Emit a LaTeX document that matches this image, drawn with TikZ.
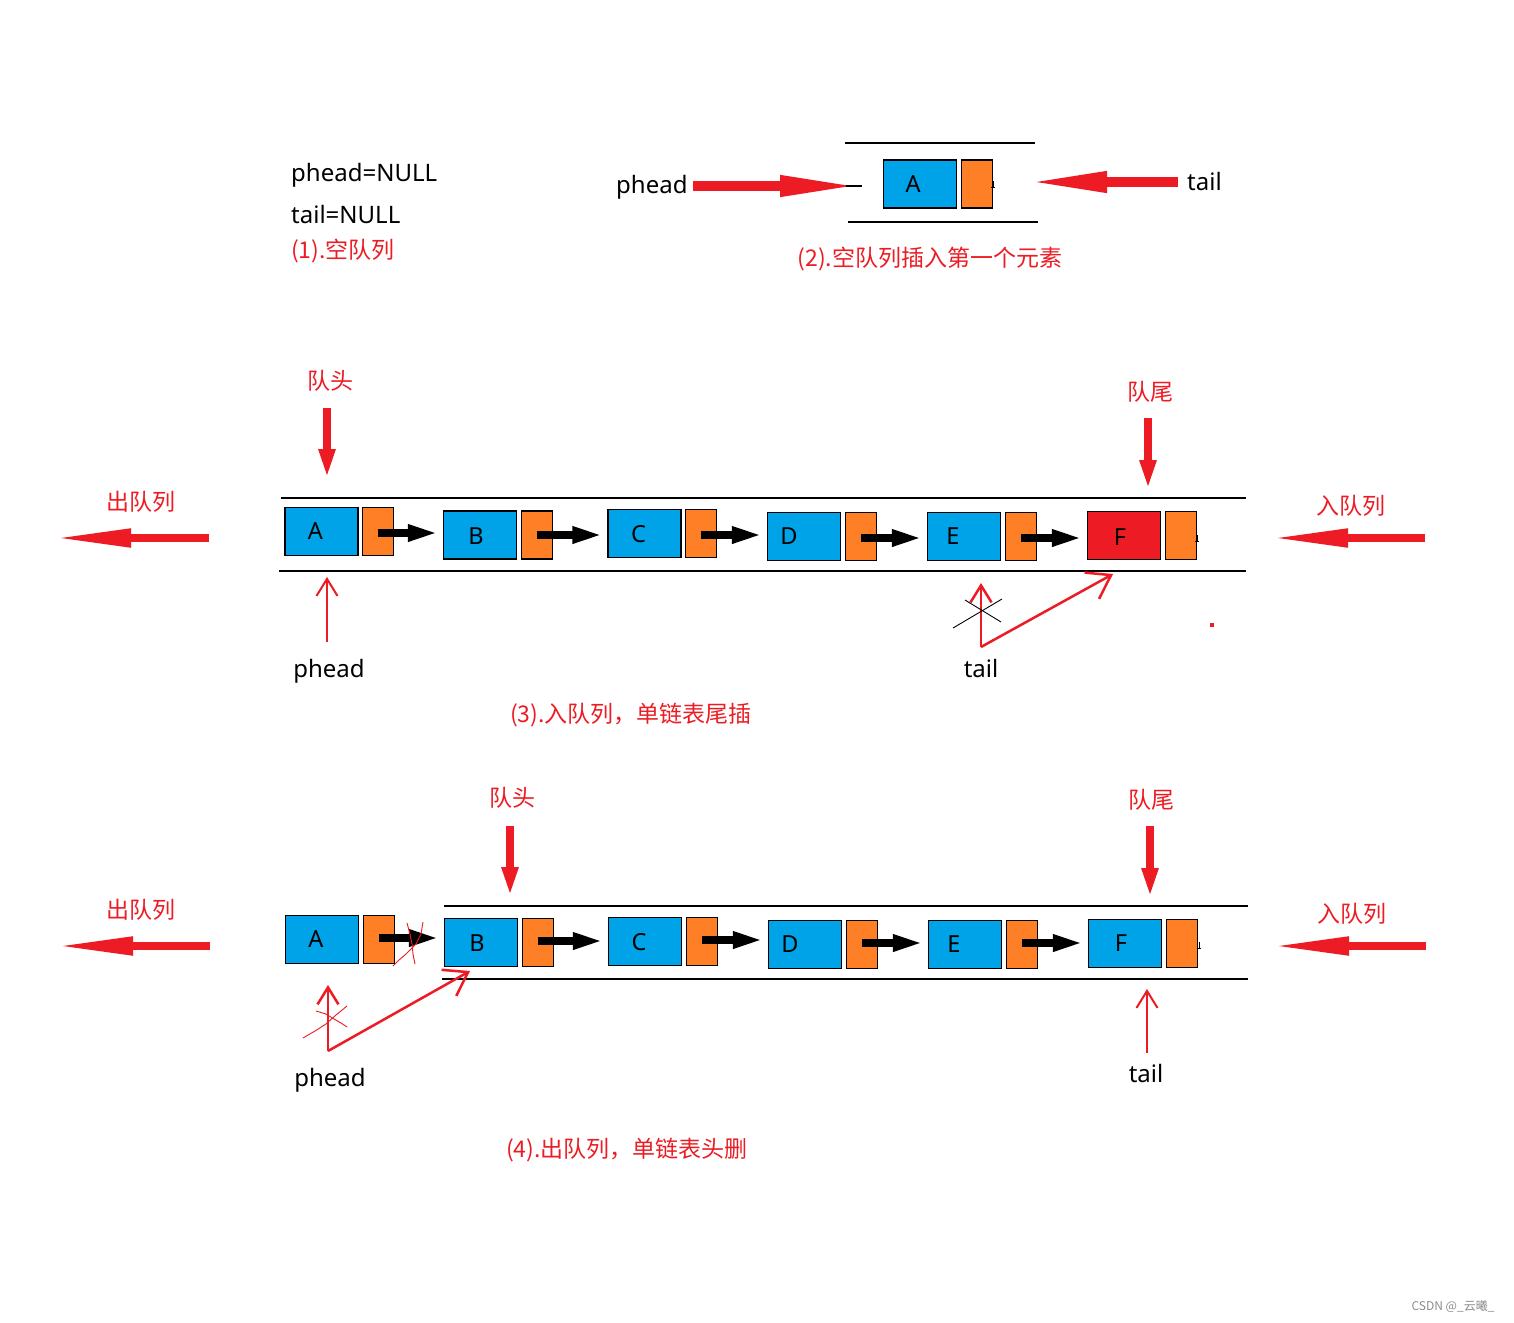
\documentclass[tikz,border=0pt]{standalone}
\usepackage{fontspec}
\newfontfamily\cjk{Noto Sans CJK SC}
\newfontfamily\lat{Noto Sans}
\usetikzlibrary{arrows.meta,calc}
\definecolor{pblue}{HTML}{00A2E8}
\definecolor{porange}{HTML}{FF7F27}
\definecolor{pred}{HTML}{ED1C24}
\begin{document}
\begin{tikzpicture}[x=1pt,y=-1pt,
 bluebox/.style={draw=black, line width=1.2pt, fill=pblue, minimum width=73pt, minimum height=48pt, inner sep=0pt},
 redbox/.style={bluebox, fill=pred},
 orbox/.style={draw=black, line width=1.2pt, fill=porange, minimum width=31pt, minimum height=48pt, inner sep=0pt},
 lbl/.style={font=\lat\fontsize{23.5}{27}\selectfont, inner sep=0pt, text=black},
 txt/.style={font=\lat\fontsize{24}{28}\selectfont, inner sep=0pt, text=black},
 cn/.style={font=\cjk\fontsize{23}{27}\selectfont, inner sep=0pt, text=pred},
 blk/.style={draw=black, line width=8pt, -{Triangle[length=32pt,width=15pt]}, shorten >=3pt},
 fat/.style={draw=pred, line width=8pt, -{Triangle[length=78pt,width=17pt]}},
 fatb/.style={draw=pred, line width=10pt, -{Triangle[length=82pt,width=19pt]}},
 vfat/.style={draw=pred, line width=8pt, -{Triangle[length=30pt,width=15pt]}},
 thin/.style={draw=pred, line width=2.5pt, -{Straight Barb[length=17pt,width=21pt]}},
 diag/.style={draw=pred, line width=2.5pt, -{Straight Barb[length=22pt,width=30pt]}},
 rail/.style={draw=black, line width=1.1pt},
 scrib/.style={draw=pred, line width=0.9pt},
 cross/.style={draw=black, line width=0.9pt},
 tick/.style={draw=black, line width=1pt}
]
\useasboundingbox[fill=white] (0,0) rectangle (1514,1322);

% ---------- (1) ----------
\node[txt, anchor=west] (n1a) at (291,175) {phead=NULL};
\node[txt, anchor=west] (n1b) at (291,214) {tail=NULL};
\node[cn, anchor=west] (c1) at (291,251) {(1).空队列};

% ---------- (2) ----------
\draw[rail] (845,143) -- (1035,143);
\draw[rail] (848,222) -- (1038,222);
\node[bluebox, label={[lbl, xshift=-7pt]center:A}] (a2) at (920,184) {};
\node[orbox] (oa2) at (977,184) {};
\draw[tick] (993,181) -- (993,187) (991,187) -- (995,187);
\node[txt, anchor=west] (ph2) at (616,187) {phead};
\node[txt, anchor=west] (tl2) at (1187,181) {tail};
\coordinate (ph2s) at (693,186);
\coordinate (ph2e) at (862,186);
\draw[fatb] (ph2s) -- (ph2e);
\draw[black, line width=1.5pt] (846,186) -- (ph2e);
\coordinate (tl2s) at (1178,182);
\coordinate (tl2e) at (1025,182);
\draw[fatb] (tl2s) -- (tl2e);
\node[cn] (c2) at (930,259) {(2).空队列插入第一个元素};

% ---------- (3) ----------
\draw[rail] (281,498) -- (1246,498);
\draw[rail] (279,571) -- (1246,571);
\node[bluebox, label={[lbl, xshift=-6pt]center:A}] (a3) at (321.5,531.5) {};
\node[orbox] (oa3) at (378,531.5) {};
\node[bluebox, label={[lbl, xshift=-4pt, yshift=-1pt]center:B}] (b3) at (480,535) {};
\node[orbox] (ob3) at (537,535) {};
\node[bluebox, label={[lbl, xshift=-6pt, yshift=-1pt]center:C}] (cc3) at (644.5,533.5) {};
\node[orbox] (oc3) at (701,533.5) {};
\node[bluebox, label={[lbl, xshift=-15pt]center:D}] (d3) at (804,536.5) {};
\node[orbox] (od3) at (861,536.5) {};
\node[bluebox, label={[lbl, xshift=-11pt]center:E}] (e3) at (964,536.5) {};
\node[orbox] (oe3) at (1021,536.5) {};
\node[redbox, label={[lbl, xshift=-4pt, yshift=-2pt]center:F}] (f3) at (1124,535.5) {};
\node[orbox] (of3) at (1181,535.5) {};
\draw[tick] (1197,535) -- (1197,541) (1195,541) -- (1199,541);
\draw[blk] ([yshift=-1.5pt]oa3.center) -- ([yshift=-1.5pt]oa3.center -| b3.west);
\draw[blk] (ob3.center) -- (ob3.center -| cc3.west);
\draw[blk] ([yshift=-1.5pt]oc3.center) -- ([yshift=-1.5pt]oc3.center -| d3.west);
\draw[blk] ([yshift=-1.5pt]od3.center) -- ([yshift=-1.5pt]od3.center -| e3.west);
\draw[blk] ([yshift=-1.5pt]oe3.center) -- ([yshift=-1.5pt]oe3.center -| f3.west);

\node[cn] (qh3) at (330,381) {队头};
\node[cn] (qt3) at (1150,392) {队尾};
\node[cn] (out3) at (141,502) {出队列};
\node[cn] (in3) at (1351,506) {入队列};
\coordinate (qh3s) at (327,408); \coordinate (qh3e) at (327,479);
\draw[vfat] (qh3s) -- (qh3e);
\coordinate (qt3s) at (1148,418); \coordinate (qt3e) at (1148,490);
\draw[vfat] (qt3s) -- (qt3e);
\coordinate (out3s) at (209,538); \coordinate (out3e) at (53,538);
\draw[fat] (out3s) -- (out3e);
\coordinate (in3s) at (1425,538); \coordinate (in3e) at (1270,538);
\draw[fat] (in3s) -- (in3e);

\node[txt] (ph3) at (329,671) {phead};
\coordinate (ph3s) at (327,642); \coordinate (ph3e) at (327,577);
\draw[thin, line width=2pt] (ph3s) -- (ph3e);
\node[txt] (tl3) at (981,668) {tail};
\coordinate (tl3s) at (981,647); \coordinate (tl3e) at (981,583);
\coordinate (tl3f) at (1113,574);
\draw[thin] (tl3s) -- (tl3e);
\draw[diag] (tl3s) -- (tl3f);
\draw[cross] (953,628) -- (1002,599);
\draw[cross] (965,600) -- (1001,622);
\fill[pred] (1210,623) rectangle (1214,627);
\node[cn] (c3) at (631,715) {(3).入队列，单链表尾插};

% ---------- (4) ----------
\draw[rail] (444,906) -- (1248,906);
\draw[rail] (442,979) -- (1248,979);
\node[bluebox, label={[lbl, xshift=-6pt]center:A}] (a4) at (322,939.5) {};
\node[orbox] (oa4) at (379,939.5) {};
\node[bluebox, label={[lbl, xshift=-4pt, yshift=-1pt]center:B}] (b4) at (481,942.5) {};
\node[orbox] (ob4) at (538,942.5) {};
\node[bluebox, label={[lbl, xshift=-6pt, yshift=-1pt]center:C}] (cc4) at (645,941.5) {};
\node[orbox] (oc4) at (702,941.5) {};
\node[bluebox, label={[lbl, xshift=-15pt]center:D}] (d4) at (805,944.5) {};
\node[orbox] (od4) at (862,944.5) {};
\node[bluebox, label={[lbl, xshift=-11pt]center:E}] (e4) at (965,944.5) {};
\node[orbox] (oe4) at (1022,944.5) {};
\node[bluebox, label={[lbl, xshift=-4pt]center:F}] (f4) at (1125,943.5) {};
\node[orbox] (of4) at (1182,943.5) {};
\draw[tick] (1199,942) -- (1199,948) (1197,948) -- (1201,948);
\draw[blk] ([yshift=1.5pt]oa4.center) -- ([yshift=1.5pt]oa4.center -| b4.west);
\draw[blk] ([yshift=1.5pt]ob4.center) -- ([yshift=1.5pt]ob4.center -| cc4.west);
\draw[blk] ([yshift=1.5pt]oc4.center) -- ([yshift=1.5pt]oc4.center -| d4.west);
\draw[blk] ([yshift=1.5pt]od4.center) -- ([yshift=1.5pt]od4.center -| e4.west);
\draw[blk] ([yshift=1.5pt]oe4.center) -- ([yshift=1.5pt]oe4.center -| f4.west);
% scribbles over the A->B pointer
\draw[scrib] (423,922) -- (421,934) -- (416,944) -- (406,954) -- (399,960) -- (393,966);
\draw[scrib] (407,923) -- (410,934) -- (412,944) -- (413,954) -- (415,964);

\node[cn] (qh4) at (512,798) {队头};
\node[cn] (qt4) at (1151,800) {队尾};
\node[cn] (out4) at (141,910) {出队列};
\node[cn] (in4) at (1352,914) {入队列};
\coordinate (qh4s) at (510,826); \coordinate (qh4e) at (510,897);
\draw[vfat] (qh4s) -- (qh4e);
\coordinate (qt4s) at (1150,826); \coordinate (qt4e) at (1150,898);
\draw[vfat] (qt4s) -- (qt4e);
\coordinate (out4s) at (210,946); \coordinate (out4e) at (55,946);
\draw[fat] (out4s) -- (out4e);
\coordinate (in4s) at (1426,946); \coordinate (in4e) at (1271,946);
\draw[fat] (in4s) -- (in4e);

\node[txt] (ph4) at (330,1080) {phead};
\coordinate (ph4s) at (328,1051); \coordinate (ph4e) at (328,985);
\coordinate (ph4f) at (470,971);
\draw[thin] (ph4s) -- (ph4e);
\draw[diag] (ph4s) -- (ph4f);
\draw[scrib] (303,1038) -- (315,1031) -- (326,1024) -- (336,1015) -- (347,1006);
\draw[scrib] (316,1011) -- (326,1014) -- (334,1019) -- (341,1023) -- (347,1027);
\node[txt] (tl4) at (1146,1073) {tail};
\coordinate (tl4s) at (1147,1053); \coordinate (tl4e) at (1147,989);
\draw[thin, line width=2pt] (tl4s) -- (tl4e);
\node[cn] (c4) at (627,1150) {(4).出队列，单链表头删};

\node[font=\cjk\fontsize{12}{14}\selectfont, text=black!45, inner sep=0pt] (wm) at (1453,1306) {CSDN @\_云曦\_};
\end{tikzpicture}
\end{document}
